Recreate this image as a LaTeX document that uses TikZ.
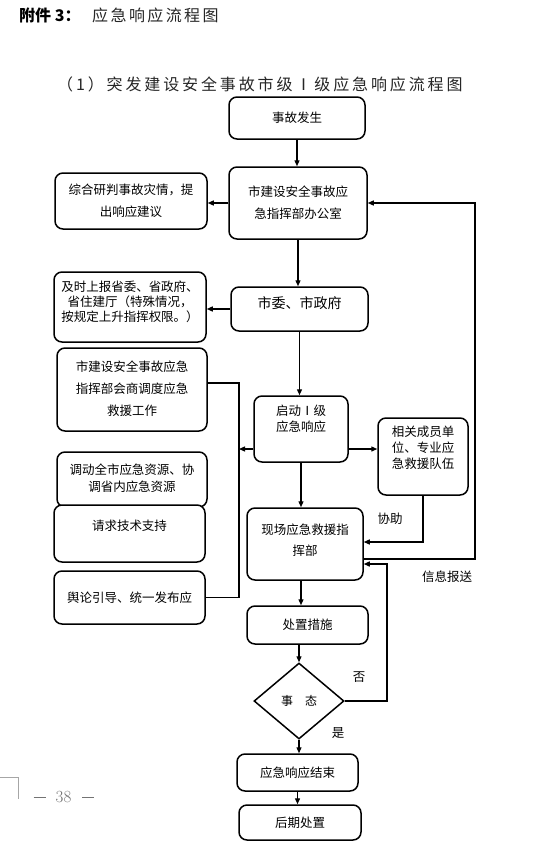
\documentclass[tikz,border=0pt]{standalone}
\usepackage{fontspec}
\newfontfamily\cjk{Noto Sans CJK SC}
\newfontfamily\cjkhead[LetterSpace=18]{Noto Sans CJK SC}
\newfontfamily\cjktitle[LetterSpace=15]{Noto Sans CJK SC}
\usetikzlibrary{arrows.meta,shapes.geometric}
\newcommand\ml[1]{\begin{tabular}{@{}c@{}}#1\end{tabular}}
\newcommand\up[2]{\raisebox{#1}[\height][\depth]{#2}}
\tikzset{
  box/.style={draw, line width=1.5pt, rounded corners=8pt, fill=white, inner sep=0pt,
              font=\cjk\fontsize{12.5}{22}\selectfont},
  sz/.style 2 args={minimum width=#1pt, minimum height=#2pt},
  arr/.style={line width=1.3pt, -{Triangle[length=6pt,width=5pt]}},
  ln/.style={line width=1.3pt},
  lbl/.style={font=\cjk\fontsize{12.5}{15}\selectfont, inner sep=0pt},
}
\begin{document}
\begin{tikzpicture}[x=1pt,y=-1pt]
\useasboundingbox[fill=white] (0,0) rectangle (546,847);
% titles
\node[anchor=west, inner sep=0pt, font=\cjk\fontsize{16}{18}\selectfont\bfseries] (t1) at (19,15) {附件 3：};
\node[anchor=west, inner sep=0pt, font=\cjktitle\fontsize{16}{18}\selectfont, text=black!85] (t2) at (92,15) {应急响应流程图};
\node[anchor=west, inner sep=0pt, font=\cjkhead\fontsize{16}{18}\selectfont, text=black!85] (t3) at (57,84) {（1）突发建设安全事故市级Ⅰ级应急响应流程图};
% boxes
\node[box, sz={136}{42}] (a) at (297,118) {事故发生};
\node[box, sz={138}{72}] (b) at (298,203) {\ml{市建设安全事故应\\急指挥部办公室}};
\node[box, sz={152}{56}] (c) at (131,201) {\ml{综合研判事故灾情，提\\出响应建议}};
\node[box, sz={137}{44}, font=\cjk\fontsize{14}{16}\selectfont] (d) at (299.5,309) {\up{6pt}{市委、市政府}};
\node[box, sz={152}{70}, font=\cjk\fontsize{12.5}{14.5}\selectfont] (e) at (130,307) {\up{4pt}{\ml{及时上报省委、省政府、\\省住建厅（特殊情况，\\按规定上升指挥权限。）}}};
\node[box, sz={150}{83}] (g) at (132,389.5) {\ml{市建设安全事故应急\\指挥部会商调度应急\\救援工作}};
\node[box, sz={150}{55}, font=\cjk\fontsize{12.5}{17}\selectfont] (h) at (132,479.5) {\ml{调动全市应急资源、协\\调省内应急资源}};
\node[box, sz={151}{57}] (i) at (129.5,533.5) {\up{8pt}{请求技术支持}};
\node[box, sz={151}{53}] (j) at (129.5,597.5) {舆论引导、统一发布应};
\node[box, sz={94}{66}, font=\cjk\fontsize{12.5}{16}\selectfont] (f) at (301,429) {\up{9pt}{\ml{启动Ⅰ级\\应急响应}}};
\node[box, sz={90}{77}, font=\cjk\fontsize{12.5}{16}\selectfont] (k) at (423,456.5) {\up{7pt}{\ml{相关成员单\\位、专业应\\急救援队伍}}};
\node[box, sz={116}{72}, font=\cjk\fontsize{12.5}{21}\selectfont] (l) at (305,544) {\up{3pt}{\ml{现场应急救援指\\挥部}}};
\node[box, sz={121}{38}] (m) at (307.5,625) {处置措施};
\node[draw, diamond, line width=1.5pt, fill=white, inner sep=0pt, minimum width=90pt, minimum height=76pt,
      font=\cjk\fontsize{12}{14}\selectfont] (n) at (299,701) {事　态};
\node[box, sz={121}{37}] (o) at (297.5,772.5) {应急响应结束};
\node[box, sz={122}{35}] (p) at (300,822.5) {后期处置};
% helper coordinates
\coordinate (bt) at (239,383);
\coordinate (bb) at (239,597.5);
\coordinate (rt) at (475,203);
\coordinate (rb) at (475,559);
\coordinate (nx) at (387,700);
% connectors
\draw[arr] (a.south) -- (a.south |- b.north);
\draw[arr] (b.west) -- (b.west -| c.east);
\draw[arr] (b.south) -- (b.south |- d.north);
\draw[arr] (d.west) -- (d.west -| e.east);
\draw[arr] (d.south) -- (d.south |- f.north);
\draw[ln] ([yshift=6.5pt]g.east) -- ([yshift=6.5pt]g.east -| bt) -- (bb) -- (bb -| j.east);
\draw[arr] ([yshift=-20pt]f.west) -- ([yshift=-20pt]f.west -| bt);
\draw[arr] ([yshift=-20pt]f.east) -- ([yshift=-20pt]f.east -| k.west);
\draw[arr] (f.south) -- (f.south |- l.north);
\draw[arr] (k.south) |- ([yshift=2pt]l.east);
\draw[arr] ([yshift=-15pt]l.east) -- (rb) -- (rt) -- (b.east);
\draw[arr] ([xshift=-4pt]l.south) -- ([xshift=-4pt]l.south |- m.north);
\draw[arr] (m.south -| n.north) -- (n.north);
\draw[arr] (n.south) -- (n.south |- o.north);
\draw[arr] (o.south) -- (o.south |- p.north);
\draw[arr] (n.east) -- (n.east -| nx) |- ([yshift=-20pt]l.east);
% labels
\node[lbl] (l1) at (390,519) {协助};
\node[lbl] (l2) at (447,577) {信息报送};
\node[lbl] (l3) at (359,677) {否};
\node[lbl] (l4) at (338,733) {是};
% page mark
\draw[black!35, line width=0.6pt] (0,777) -- (18,777) -- (18,799);
\node[inner sep=0pt, font=\fontsize{17}{19}\selectfont, text=black!55] (pg) at (64,797)
  {\rule[5pt]{12pt}{0.6pt}\hspace{10pt}38\hspace{11pt}\rule[5pt]{12pt}{0.6pt}};
\end{tikzpicture}
\end{document}
